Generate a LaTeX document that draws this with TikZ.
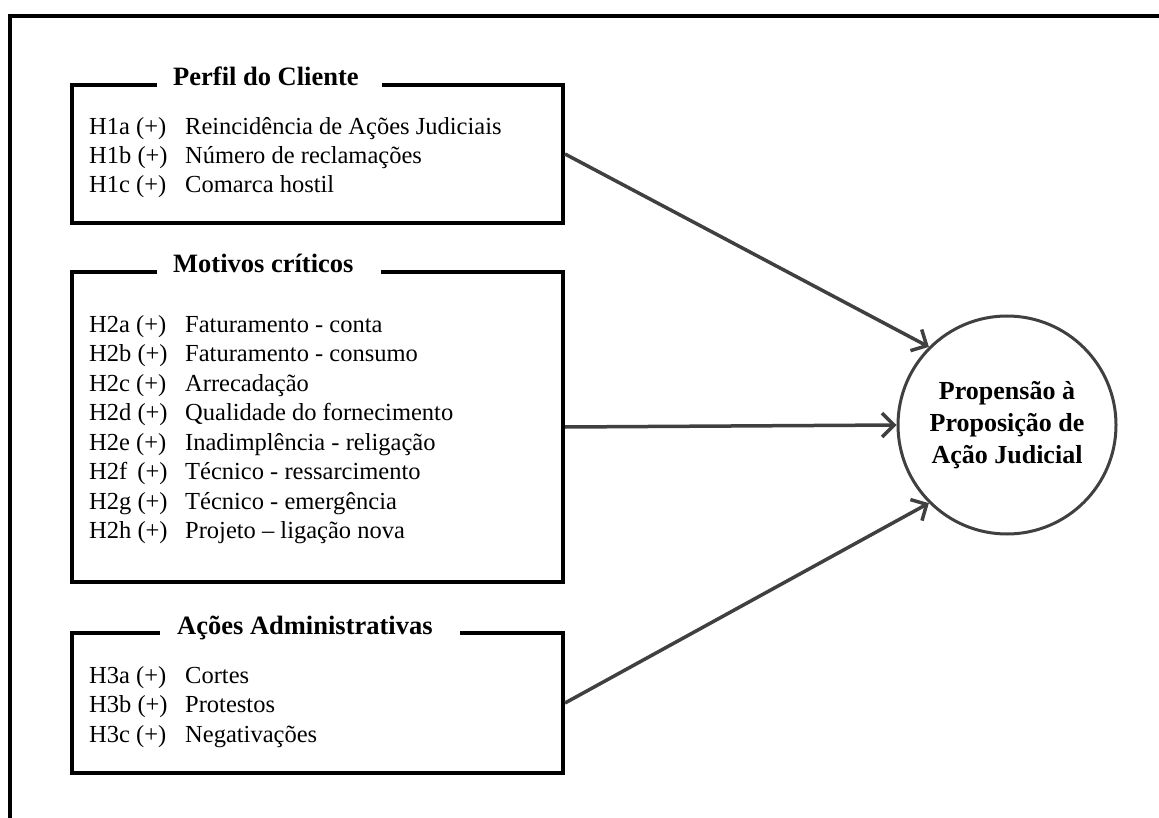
\documentclass[tikz,border=0pt]{standalone}
\usepackage{fontspec}
\setmainfont{Liberation Serif}
\usetikzlibrary{arrows.meta}
\definecolor{arrowgray}{HTML}{404040}
\begin{document}
\begin{tikzpicture}[x=1pt,y=-1pt,
  frame/.style={line width=4.5pt, draw=black},
  box/.style={draw=black, line width=4pt, rectangle, inner sep=0pt, minimum width=491pt},
  title/.style={fill=white, inner sep=0pt, text depth=5pt, anchor=base west, font=\fontsize{26.5}{30}\selectfont\bfseries},
  hyp/.style={anchor=base west, inner sep=0pt, font=\fontsize{24.5}{29}\selectfont},
  goal/.style={circle, draw=arrowgray, line width=3pt, minimum size=218pt, inner sep=0pt, align=center, font=\fontsize{26}{32}\selectfont\bfseries},
  link/.style={draw=arrowgray, line width=3.5pt, -{Straight Barb[length=12pt,width=24pt]}}
]
\useasboundingbox (0,0) rectangle (1159,818);
\draw[frame] (10,818) -- (10,16) -- (1159,16);

% boxes
\node[box, minimum height=138pt] (b1) at (317.5,154) {};
\node[box, minimum height=310pt] (b2) at (317.5,427) {};
\node[box, minimum height=140pt] (b3) at (317.5,703) {};

% titles
\node[title] (t1) at (157,86) {\kern16pt Perfil do Cliente\kern23pt};
\node[title] (t2) at (157,273) {\kern16pt Motivos críticos\kern28pt};
\node[title] (t3) at (160,634) {\kern17pt Ações Administrativas\kern27pt};

% box 1 rows
\node[hyp] (h1a) at (89,135) {H1a (+)};
\node[hyp] (d1a) at (185,135) {Reincidência de Ações Judiciais};
\node[hyp] (h1b) at (89,164) {H1b (+)};
\node[hyp] (d1b) at (185,164) {Número de reclamações};
\node[hyp] (h1c) at (89,193) {H1c (+)};
\node[hyp] (d1c) at (185,193) {Comarca hostil};

% box 2 rows
\node[hyp] (h2a) at (89,332) {H2a (+)};
\node[hyp] (d2a) at (185,332) {Faturamento - conta};
\node[hyp] (h2b) at (89,361.5) {H2b (+)};
\node[hyp] (d2b) at (185,361.5) {Faturamento - consumo};
\node[hyp] (h2c) at (89,391) {H2c (+)};
\node[hyp] (d2c) at (185,391) {Arrecadação};
\node[hyp] (h2d) at (89,420.5) {H2d (+)};
\node[hyp] (d2d) at (185,420.5) {Qualidade do fornecimento};
\node[hyp] (h2e) at (89,450) {H2e (+)};
\node[hyp] (d2e) at (185,450) {Inadimplência - religação};
\node[hyp] (h2f) at (89,479.5) {H2f \,(+)};
\node[hyp] (d2f) at (185,479.5) {Técnico - ressarcimento};
\node[hyp] (h2g) at (89,509) {H2g (+)};
\node[hyp] (d2g) at (185,509) {Técnico - emergência};
\node[hyp] (h2h) at (89,538.5) {H2h (+)};
\node[hyp] (d2h) at (185,538.5) {Projeto – ligação nova};

% box 3 rows
\node[hyp] (h3a) at (89,683) {H3a (+)};
\node[hyp] (d3a) at (185,683) {Cortes};
\node[hyp] (h3b) at (89,712.5) {H3b (+)};
\node[hyp] (d3b) at (185,712.5) {Protestos};
\node[hyp] (h3c) at (89,742) {H3c (+)};
\node[hyp] (d3c) at (185,742) {Negativações};

% outcome
\node[goal] (g) at (1007,425) {Propensão à\\Proposição de\\Ação Judicial};

% connectors
\draw[link] (b1.east) -- (g.north west);
\draw[link] (b2.east) -- (g.west);
\draw[link] (b3.east) -- (g.south west);
\end{tikzpicture}
\end{document}
